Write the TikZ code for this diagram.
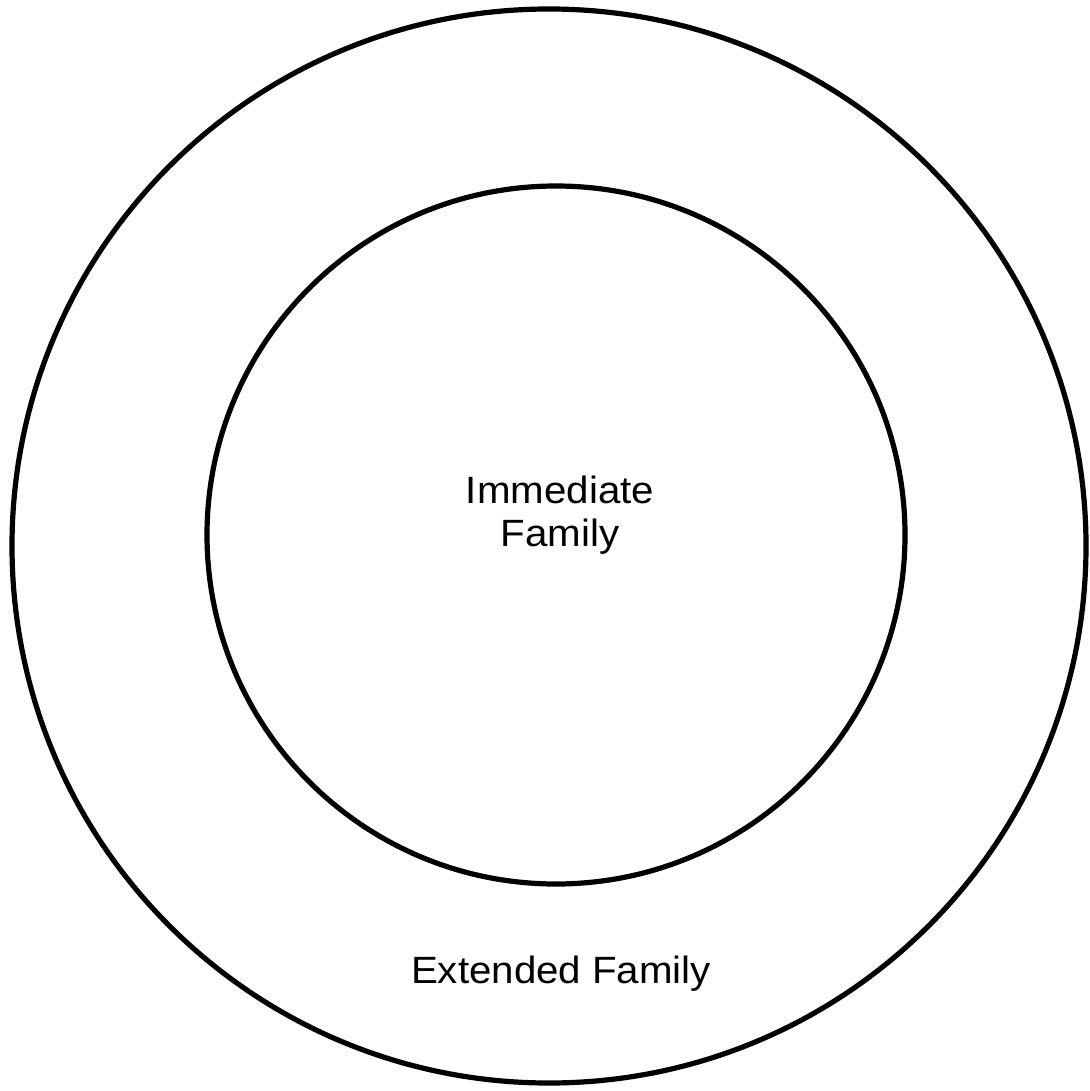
\documentclass[tikz,border=0pt]{standalone}
\usepackage{fontspec}
\newfontfamily\labelfont[FakeStretch=1.06]{Liberation Sans}
\usepackage{tikz}
\usetikzlibrary{positioning}
\tikzset{
    %Define style for the rings
    ring/.style={
           circle,
           draw=black,
           line width=2.6pt,
           inner sep=0pt},
    %Define style for labels
    lbl/.style={
           inner sep=0pt,
           align=center,
           font=\labelfont\fontsize{19pt}{21.5pt}\selectfont}
}
\begin{document}
\begin{tikzpicture}[x=0.5pt,y=-0.5pt]
\useasboundingbox (0,0) rectangle (1089,1091);
\node[ring, minimum size=1074pt*0.5](outer) at (549,546){};
\node[ring, minimum size=698pt*0.5](inner) at (556,535){};
\node[lbl](imm) at (560,515){Immediate\\Family};
\node[lbl, anchor=base](ext) at (561,983){Extended Family};
\end{tikzpicture}
\end{document}
